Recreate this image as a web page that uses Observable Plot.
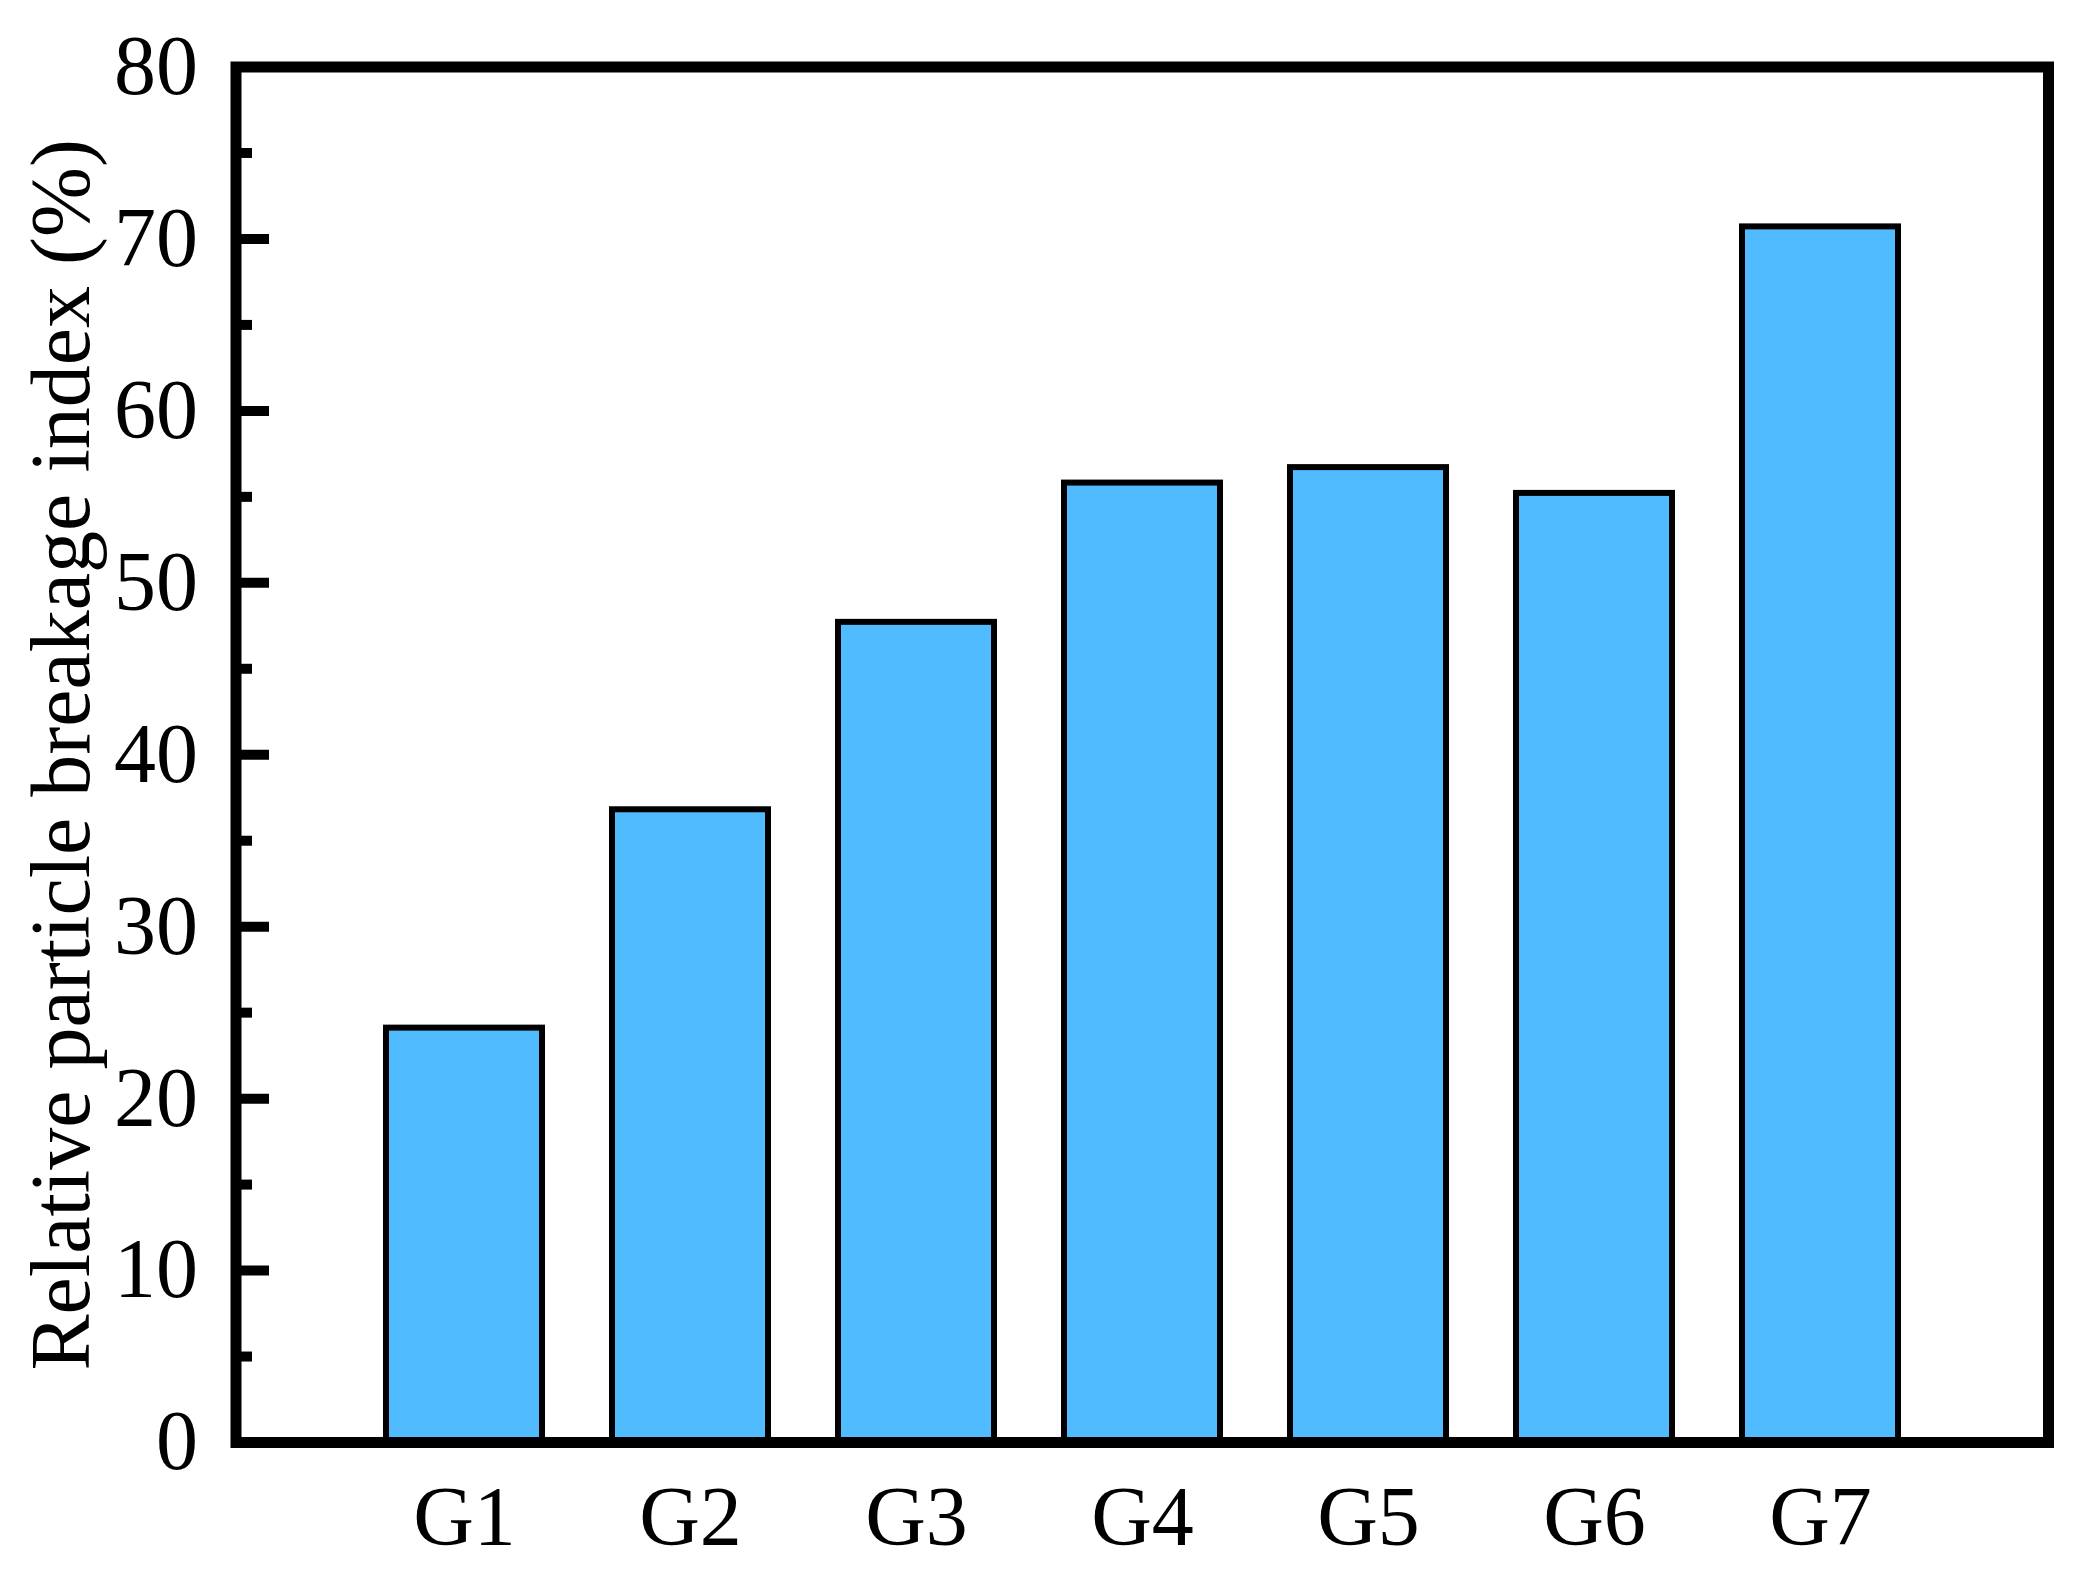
<!DOCTYPE html>
<html>
<head>
<meta charset="utf-8">
<script src="https://cdn.jsdelivr.net/npm/d3@7"></script>
<script src="https://cdn.jsdelivr.net/npm/@observablehq/plot@0.6"></script>
<style>
  html, body { margin: 0; padding: 0; background: #fff; }
  #chart svg { display: block; }
  #chart svg, #chart svg text { font-family: "Liberation Serif", "Times New Roman", Tinos, serif !important; }
</style>
</head>
<body>
<div id="chart"></div>
<script>
const categories = ["G1", "G2", "G3", "G4", "G5", "G6", "G7"];
const values = [24.1, 36.8, 47.7, 55.8, 56.7, 55.2, 70.7];
const majorTicks = [0, 10, 20, 30, 40, 50, 60, 70, 80];
const minorTicks = [5, 15, 25, 35, 45, 55, 65, 75];
const yLabel = "Relative particle breakage index (%)";

const data = categories.map((c, i) => ({group: c, value: values[i]}));

const chart = Plot.plot({
  width: 2083,
  height: 1591,
  marginLeft: 235.5,
  marginRight: 35,
  marginTop: 66.5,
  marginBottom: 149,
  style: {background: "#fff", color: "#000"},
  x: {domain: categories, paddingInner: 0.31, paddingOuter: 0.655, align: 0.5},
  y: {domain: [0, 80]},
  marks: [
    Plot.barY(data, {x: "group", y: "value", fill: "#50BCFF", stroke: "#000", strokeWidth: 6}),
    Plot.frame({stroke: "#000", strokeWidth: 11}),
    Plot.axisY(majorTicks, {anchor: "left", tickSize: -33.5, strokeWidth: 10, text: null, label: null}),
    Plot.axisY(minorTicks, {anchor: "left", tickSize: -16.5, strokeWidth: 10, text: null, label: null}),
    Plot.axisY(majorTicks, {anchor: "left", tickSize: 0, tickPadding: 38, fontSize: 84,
      label: yLabel, labelAnchor: "center", labelArrow: "none", labelOffset: 207}),
    Plot.axisX({anchor: "bottom", tickSize: 0, tickPadding: 43, fontSize: 84, label: null})
  ]
});
document.getElementById("chart").appendChild(chart);
</script>
</body>
</html>
